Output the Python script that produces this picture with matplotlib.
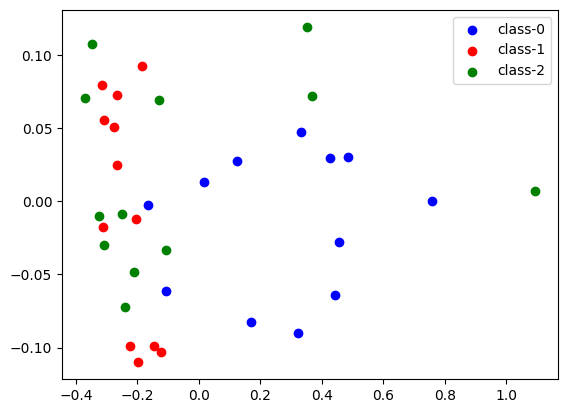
import matplotlib
matplotlib.use("Agg")
import matplotlib.pyplot as plt

class0_x = [-0.164, 0.018, 0.124, -0.108, 0.171, 0.333, 0.427, 0.486, 0.760, 0.457, 0.442, 0.321]
class0_y = [-0.0023, 0.0134, 0.0277, -0.0616, -0.0827, 0.0475, 0.0298, 0.0305, 0.0, -0.0275, -0.0643, -0.0902]

class1_x = [-0.184, -0.316, -0.265, -0.310, -0.275, -0.268, -0.203, -0.312, -0.225, -0.146, -0.124, -0.199]
class1_y = [0.0925, 0.0795, 0.0727, 0.0557, 0.0509, 0.025, -0.0118, -0.0175, -0.0991, -0.0991, -0.1032, -0.110]

class2_x = [-0.348, -0.372, -0.131, -0.326, -0.249, -0.310, -0.108, -0.210, -0.242, 0.353, 0.368, 1.095]
class2_y = [0.1075, 0.0707, 0.0693, -0.0098, -0.0089, -0.0302, -0.033, -0.0486, -0.0723, 0.1193, 0.072, 0.0073]

labels = ["class-0", "class-1", "class-2"]
colors = ["blue", "red", "green"]

fig = plt.figure(figsize=(5.68, 4.13), dpi=100)
ax = fig.add_axes([62 / 568, (413 - 379) / 413, 496 / 568, 369 / 413])
for xs, ys, lab, col in zip([class0_x, class1_x, class2_x], [class0_y, class1_y, class2_y], labels, colors):
    ax.scatter(xs, ys, c=col, label=lab)
ax.legend(loc="upper right")
fig.savefig("out.png", dpi=100)
